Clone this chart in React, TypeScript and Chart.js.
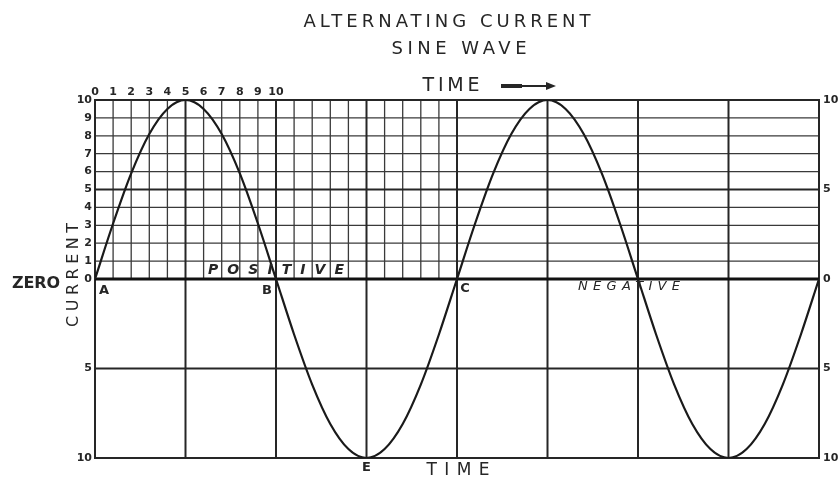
import { useEffect, useRef } from 'react';
import { Chart, registerables } from 'chart.js';

Chart.register(...registerables);

// ---- data ----
const timeSteps = [
  0, 1, 2, 3, 4, 5, 6, 7, 8, 9, 10, 11, 12, 13, 14, 15, 16, 17, 18, 19, 20,
  21, 22, 23, 24, 25, 26, 27, 28, 29, 30, 31, 32, 33, 34, 35, 36, 37, 38, 39, 40,
];
const currentValues = [
  0, 3.1, 5.9, 8.1, 9.5, 10, 9.5, 8.1, 5.9, 3.1, 0,
  -3.1, -5.9, -8.1, -9.5, -10, -9.5, -8.1, -5.9, -3.1, 0,
  3.1, 5.9, 8.1, 9.5, 10, 9.5, 8.1, 5.9, 3.1, 0,
  -3.1, -5.9, -8.1, -9.5, -10, -9.5, -8.1, -5.9, -3.1, 0,
];
const topTickValues = [0, 1, 2, 3, 4, 5, 6, 7, 8, 9, 10];
const topTickLabels = ['0', '1', '2', '3', '4', '5', '6', '7', '8', '9', '10'];
const leftTickValues = [10, 9, 8, 7, 6, 5, 4, 3, 2, 1, 0, -5, -10];
const leftTickLabels = ['10', '9', '8', '7', '6', '5', '4', '3', '2', '1', '0', '5', '10'];
const rightTickValues = [10, 5, 0, -5, -10];
const rightTickLabels = ['10', '5', '0', '5', '10'];
const fineGridX = [1, 2, 3, 4, 6, 7, 8, 9, 11, 12, 13, 14, 16, 17, 18, 19];
const majorGridX = [5, 10, 15, 20, 25, 30, 35];
const fineGridY = [1, 2, 3, 4, 6, 7, 8, 9];
const majorGridY = [5, -5];
const pointLabels = [
  { text: 'A', x: 0, y: 0 },
  { text: 'B', x: 10, y: 0 },
  { text: 'C', x: 20, y: 0 },
];

const INK = '#262626';
const FONT = '"DejaVu Sans", sans-serif';

function spacedText(
  ctx: CanvasRenderingContext2D,
  text: string,
  cx: number,
  cy: number,
  width: number,
  font: string,
) {
  ctx.save();
  ctx.font = font;
  (ctx as any).letterSpacing = '0px';
  const w = ctx.measureText(text).width;
  const n = text.length;
  const sp = n > 1 ? (width - w) / (n - 1) : 0;
  (ctx as any).letterSpacing = sp + 'px';
  ctx.textAlign = 'left';
  ctx.textBaseline = 'middle';
  ctx.fillStyle = INK;
  ctx.fillText(text, cx - width / 2, cy);
  ctx.restore();
}

const drawingPlugin = {
  id: 'drawing',
  beforeDatasetsDraw(chart: any) {
    const { ctx, scales } = chart;
    const xs = scales.x;
    const ys = scales.y;
    const X = (v: number) => xs.getPixelForValue(v);
    const Y = (v: number) => ys.getPixelForValue(v);
    const line = (x1: number, y1: number, x2: number, y2: number, w: number, c: string) => {
      ctx.beginPath();
      ctx.lineWidth = w;
      ctx.strokeStyle = c;
      ctx.moveTo(x1, y1);
      ctx.lineTo(x2, y2);
      ctx.stroke();
    };
    ctx.save();
    fineGridY.forEach((v) => line(X(0), Y(v), X(40), Y(v), 1.3, '#3a3a3a'));
    fineGridX.forEach((v) => line(X(v), Y(0), X(v), Y(10), 1.3, '#3a3a3a'));
    majorGridY.forEach((v) => line(X(0), Y(v), X(40), Y(v), 2, INK));
    majorGridX.forEach((v) => line(X(v), Y(-10), X(v), Y(10), 2, INK));
    ctx.lineWidth = 2;
    ctx.strokeStyle = INK;
    ctx.strokeRect(X(0), Y(10), X(40) - X(0), Y(-10) - Y(10));
    line(X(0), Y(0), X(40), Y(0), 3, '#111');
    ctx.restore();
  },
  afterDraw(chart: any) {
    const { ctx, scales } = chart;
    const xs = scales.x;
    const ys = scales.y;
    const X = (v: number) => xs.getPixelForValue(v);
    const Y = (v: number) => ys.getPixelForValue(v);
    ctx.save();
    ctx.fillStyle = INK;
    ctx.textBaseline = 'middle';

    ctx.font = `bold 11px ${FONT}`;
    ctx.textAlign = 'center';
    topTickValues.forEach((v, i) => ctx.fillText(topTickLabels[i], X(v), Y(10) - 8));
    ctx.textAlign = 'right';
    leftTickValues.forEach((v, i) => ctx.fillText(leftTickLabels[i], X(0) - 3, Y(v)));
    ctx.textAlign = 'left';
    rightTickValues.forEach((v, i) => ctx.fillText(rightTickLabels[i], X(40) + 4, Y(v)));

    ctx.font = `bold 13px ${FONT}`;
    ctx.textAlign = 'center';
    ctx.fillText(pointLabels[0].text, X(pointLabels[0].x) + 9, Y(0) + 12);
    ctx.fillText(pointLabels[1].text, X(pointLabels[1].x) - 9, Y(0) + 12);
    ctx.fillText(pointLabels[2].text, X(pointLabels[2].x) + 8, Y(0) + 10);
    ctx.fillText('E', X(15), Y(-10) + 10);

    spacedText(ctx, 'ALTERNATING CURRENT', 447, 22, 287, `18px ${FONT}`);
    spacedText(ctx, 'SINE WAVE', 459, 49, 135, `18px ${FONT}`);
    spacedText(ctx, 'TIME', 451, 86, 57, `19px ${FONT}`);
    spacedText(ctx, 'TIME', 458, 471, 63, `17px ${FONT}`);
    spacedText(ctx, 'ZERO', 36, 284, 48, `bold 16px ${FONT}`);
    spacedText(ctx, 'POSITIVE', X(10), Y(0.5), 136, `italic bold 14px ${FONT}`);
    spacedText(ctx, 'NEGATIVE', X(29.5), Y(-0.4), 102, `italic 13px ${FONT}`);

    ctx.strokeStyle = INK;
    ctx.lineWidth = 2;
    ctx.beginPath();
    ctx.moveTo(501, 86);
    ctx.lineTo(550, 86);
    ctx.stroke();
    ctx.lineWidth = 4;
    ctx.beginPath();
    ctx.moveTo(501, 86);
    ctx.lineTo(522, 86);
    ctx.stroke();
    ctx.beginPath();
    ctx.moveTo(556, 86);
    ctx.lineTo(546, 82);
    ctx.lineTo(546, 90);
    ctx.closePath();
    ctx.fill();

    ctx.save();
    ctx.translate(74, 275);
    ctx.rotate(-Math.PI / 2);
    spacedText(ctx, 'CURRENT', 0, 0, 104, `16px ${FONT}`);
    ctx.restore();

    ctx.restore();
  },
};

export default function App() {
  const canvasRef = useRef<HTMLCanvasElement | null>(null);

  useEffect(() => {
    const canvas = canvasRef.current;
    if (!canvas) return;
    const chart = new Chart(canvas, {
      type: 'line',
      data: {
        datasets: [
          {
            label: 'Current',
            data: timeSteps.map((t, i) => ({ x: t, y: currentValues[i] })),
            borderColor: '#1a1a1a',
            borderWidth: 2.2,
            pointRadius: 0,
            cubicInterpolationMode: 'monotone',
            fill: false,
          },
        ],
      },
      options: {
        responsive: false,
        animation: false,
        layout: { padding: { left: 95, right: 20, top: 100, bottom: 20 } },
        plugins: {
          legend: { display: false },
          title: { display: false },
          tooltip: { enabled: false },
        },
        scales: {
          x: { type: 'linear', min: 0, max: 40, display: false },
          y: { type: 'linear', min: -10, max: 10, display: false },
        },
      },
      plugins: [drawingPlugin],
    } as any);
    return () => chart.destroy();
  }, []);

  return (
    <div style={{ position: 'absolute', left: 0, top: 0, width: 839, height: 478, background: '#fff' }}>
      <canvas ref={canvasRef} width={839} height={478} style={{ display: 'block' }} />
    </div>
  );
}
